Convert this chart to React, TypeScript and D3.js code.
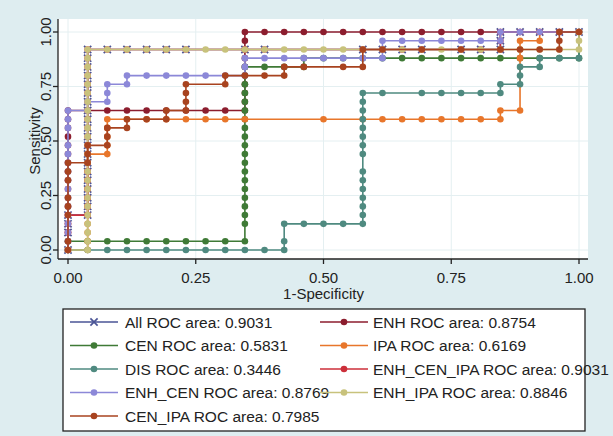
import React from "react";
import * as d3 from "d3";

// counts: [false positives (of 26 negatives), true positives (of 25 positives)]
const NEG = 26;
const POS = 25;

const allPts: [number, number][] = [[0,0],[0,2],[0,3],[0,4],[1,4],[1,5],[1,6],[1,7],[1,8],[1,9],[1,10],[1,11],[1,12],[1,13],[1,14],[1,15],[1,16],[1,17],[1,18],[1,19],[1,20],[1,21],[1,22],[1,23],[2,23],[3,23],[4,23],[5,23],[6,23],[9,23],[10,23],[15,23],[16,23],[17,23],[18,23],[20,23],[21,23],[22,23],[22,24],[22,25],[23,25],[24,25],[25,25],[26,25]];
const enhPts: [number, number][] = [[0,0],[0,1],[0,2],[0,3],[0,4],[0,5],[0,6],[0,7],[0,8],[0,9],[0,10],[0,11],[0,12],[0,13],[0,14],[0,15],[0,16],[1,16],[2,16],[3,16],[4,16],[5,16],[6,16],[7,16],[8,16],[9,16],[9,17],[9,18],[9,19],[9,20],[9,21],[9,22],[9,23],[9,24],[9,25],[10,25],[11,25],[12,25],[13,25],[14,25],[15,25],[16,25],[17,25],[18,25],[19,25],[20,25],[21,25],[22,25],[23,25],[24,25],[25,25],[26,25]];
const cenPts: [number, number][] = [[0,0],[0,1],[1,1],[2,1],[3,1],[4,1],[5,1],[6,1],[7,1],[8,1],[9,1],[9,3],[9,4],[9,5],[9,6],[9,7],[9,8],[9,9],[9,10],[9,11],[9,12],[9,13],[9,14],[9,15],[9,16],[9,17],[9,18],[9,19],[9,20],[9,21],[10,21],[11,21],[12,21],[12,22],[13,22],[14,22],[15,22],[16,22],[17,22],[18,22],[19,22],[20,22],[21,22],[22,22],[23,22],[24,22],[25,22],[26,22],[26,25]];
const ipaPts: [number, number][] = [[0,0],[1,0],[1,1],[1,2],[1,3],[1,4],[1,5],[1,6],[1,7],[1,8],[1,9],[1,10],[1,11],[2,11],[2,12],[2,13],[2,14],[2,15],[3,15],[4,15],[5,15],[6,15],[7,15],[8,15],[9,15],[13,15],[15,15],[16,15],[17,15],[18,15],[19,15],[20,15],[21,15],[22,15],[22,16],[23,16],[23,22],[23,23],[23,24],[24,24],[24,25],[25,25],[26,25]];
const disPts: [number, number][] = [[0,0],[1,0],[2,0],[3,0],[4,0],[5,0],[6,0],[7,0],[8,0],[9,0],[10,0],[11,0],[11,1],[11,3],[12,3],[13,3],[14,3],[15,3],[15,4],[15,5],[15,6],[15,7],[15,8],[15,9],[15,11],[15,12],[15,13],[15,14],[15,15],[15,16],[15,17],[15,18],[16,18],[18,18],[19,18],[20,18],[21,18],[22,18],[22,19],[23,19],[23,20],[23,21],[24,21],[24,22],[25,22],[26,22],[26,25]];
const enhCenIpaPts: [number, number][] = [[0,0],[0,2],[0,3],[0,4],[1,4],[1,5],[1,6],[1,7],[1,8],[1,9],[1,10],[1,11],[1,12],[1,13],[1,14],[1,15],[1,16],[1,17],[1,18],[1,19],[1,20],[1,21],[1,22],[1,23],[2,23],[3,23],[4,23],[5,23],[6,23],[9,23],[10,23],[15,23],[16,23],[17,23],[18,23],[20,23],[21,23],[22,23],[22,24],[22,25],[23,25],[24,25],[25,25],[26,25]];
const enhCenPts: [number, number][] = [[0,0],[0,1],[0,2],[0,3],[0,4],[0,5],[0,6],[0,7],[0,8],[0,9],[0,10],[0,11],[0,12],[0,14],[0,15],[0,16],[1,16],[1,17],[2,17],[2,18],[2,19],[3,19],[3,20],[4,20],[5,20],[6,20],[7,20],[8,20],[9,20],[9,21],[9,22],[10,22],[11,22],[12,22],[13,22],[14,22],[15,22],[16,22],[16,23],[16,24],[17,24],[18,24],[19,24],[20,24],[21,24],[22,24],[22,25],[23,25],[24,25],[25,25],[26,25]];
const enhIpaPts: [number, number][] = [[0,0],[1,0],[1,1],[1,2],[1,3],[1,4],[1,5],[1,6],[1,7],[1,8],[1,9],[1,10],[1,11],[1,12],[1,13],[1,14],[1,15],[1,16],[1,17],[1,18],[1,19],[1,20],[1,21],[1,22],[1,23],[2,23],[3,23],[4,23],[5,23],[6,23],[7,23],[8,23],[9,23],[10,23],[11,23],[12,23],[13,23],[14,23],[15,23],[16,23],[17,23],[18,23],[19,23],[20,23],[21,23],[22,23],[23,23],[24,23],[25,23],[26,23],[26,24],[26,25]];
const cenIpaPts: [number, number][] = [[0,0],[0,1],[0,4],[0,5],[0,6],[0,8],[0,9],[0,10],[1,10],[1,11],[1,12],[2,12],[2,13],[2,14],[3,14],[3,15],[4,15],[5,15],[5,16],[6,16],[6,17],[6,18],[6,19],[8,19],[8,20],[9,20],[10,20],[11,20],[11,21],[12,21],[14,21],[15,21],[15,23],[16,23],[18,23],[20,23],[22,23],[23,23],[24,23],[25,23],[25,24],[25,25],[26,25]];

const seriesNames = ["All", "ENH", "CEN", "IPA", "DIS", "ENH_CEN_IPA", "ENH_CEN", "ENH_IPA", "CEN_IPA"];
const rocAreas = ["0.9031", "0.8754", "0.5831", "0.6169", "0.3446", "0.9031", "0.8769", "0.8846", "0.7985"];
const seriesColors = ["#4a5496", "#8c1d2e", "#3f7a36", "#e8762b", "#4f8a80", "#cc2f3a", "#8c88d8", "#c8c27c", "#a8431f"];
const seriesMarkers = ["x", "o", "o", "o", "o", "o", "o", "o", "o"];
const seriesPoints = [allPts, enhPts, cenPts, ipaPts, disPts, enhCenIpaPts, enhCenPts, enhIpaPts, cenIpaPts];

const tickValues = [0, 0.25, 0.5, 0.75, 1];
const tickLabels = ["0.00", "0.25", "0.50", "0.75", "1.00"];
const xTitle = "1-Specificity";
const yTitle = "Sensitivity";

const W = 613;
const H = 436;
const FONT = "'Liberation Sans', Arial, Helvetica, sans-serif";

function Marker({ kind, cx, cy, color }: { kind: string; cx: number; cy: number; color: string }) {
  if (kind === "x") {
    const s = 3.6;
    return (
      <g stroke={color} strokeWidth={1.7}>
        <line x1={cx - s} y1={cy - s} x2={cx + s} y2={cy + s} />
        <line x1={cx - s} y1={cy + s} x2={cx + s} y2={cy - s} />
      </g>
    );
  }
  return <circle cx={cx} cy={cy} r={3.3} fill={color} />;
}

export default function App() {
  const x = d3.scaleLinear().domain([0, 1]).range([68, 579]);
  const y = d3.scaleLinear().domain([0, 1]).range([250, 32]);
  const line = d3
    .line<[number, number]>()
    .x((p) => x(p[0] / NEG))
    .y((p) => y(p[1] / POS));

  const plotL = 58, plotR = 588, plotT = 19, plotB = 259;

  const legX = 63, legY = 309, legW = 522, legH = 122;
  const rowY = (r: number) => legY + 13 + r * 23.5;
  const colKey = [70, 320];
  const keyLen = 48;
  const colText = [125, 373];

  return (
    <svg
      width={W}
      height={H}
      style={{ position: "absolute", left: 0, top: 0, fontFamily: FONT }}
    >
      <rect x={0} y={0} width={W} height={H} fill="#deedf0" />
      <rect x={plotL} y={plotT} width={plotR - plotL} height={plotB - plotT} fill="#ffffff" />
      {tickValues.map((v, i) => (
        <g key={"g" + i}>
          <line x1={plotL} x2={plotR} y1={y(v)} y2={y(v)} stroke="#e4eff1" strokeWidth={1} />
          <line x1={x(v)} x2={x(v)} y1={plotT} y2={plotB} stroke="#e4eff1" strokeWidth={1} />
        </g>
      ))}
      {seriesPoints.map((pts, si) => (
        <g key={"s" + si}>
          <path d={line(pts) || ""} fill="none" stroke={seriesColors[si]} strokeWidth={1.6} />
          {pts.map((p, pi) => (
            <Marker
              key={pi}
              kind={seriesMarkers[si]}
              cx={x(p[0] / NEG)}
              cy={y(p[1] / POS)}
              color={seriesColors[si]}
            />
          ))}
        </g>
      ))}
      <line x1={plotL} x2={plotL} y1={plotT} y2={plotB} stroke="#222" strokeWidth={1.3} />
      <line x1={plotL} x2={plotR} y1={plotB} y2={plotB} stroke="#222" strokeWidth={1.3} />
      {tickValues.map((v, i) => (
        <g key={"t" + i}>
          <line x1={plotL - 5} x2={plotL} y1={y(v)} y2={y(v)} stroke="#222" strokeWidth={1.3} />
          <text
            transform={`translate(51,${y(v)}) rotate(-90)`}
            textAnchor="middle"
            fontSize={15}
            fill="#222"
          >
            {tickLabels[i]}
          </text>
          <line x1={x(v)} x2={x(v)} y1={plotB} y2={plotB + 5} stroke="#222" strokeWidth={1.3} />
          <text x={x(v)} y={283} textAnchor="middle" fontSize={15} fill="#222">
            {tickLabels[i]}
          </text>
        </g>
      ))}
      <text x={(x(0) + x(1)) / 2} y={299} textAnchor="middle" fontSize={15} fill="#222">
        {xTitle}
      </text>
      <text
        transform={`translate(40,${(y(0) + y(1)) / 2}) rotate(-90)`}
        textAnchor="middle"
        fontSize={15}
        fill="#222"
      >
        {yTitle}
      </text>
      <rect x={legX} y={legY} width={legW} height={legH} fill="#ffffff" stroke="#222" strokeWidth={1.3} />
      {seriesNames.map((name, si) => {
        const r = Math.floor(si / 2);
        const c = si % 2;
        const cy = rowY(r);
        const kx = colKey[c];
        return (
          <g key={"l" + si}>
            <line x1={kx} x2={kx + keyLen} y1={cy} y2={cy} stroke={seriesColors[si]} strokeWidth={1.6} />
            <Marker kind={seriesMarkers[si]} cx={kx + keyLen / 2} cy={cy} color={seriesColors[si]} />
            <text x={colText[c]} y={cy} dy="0.36em" fontSize={15.5} fill="#222">
              {name + " ROC area: " + rocAreas[si]}
            </text>
          </g>
        );
      })}
    </svg>
  );
}
